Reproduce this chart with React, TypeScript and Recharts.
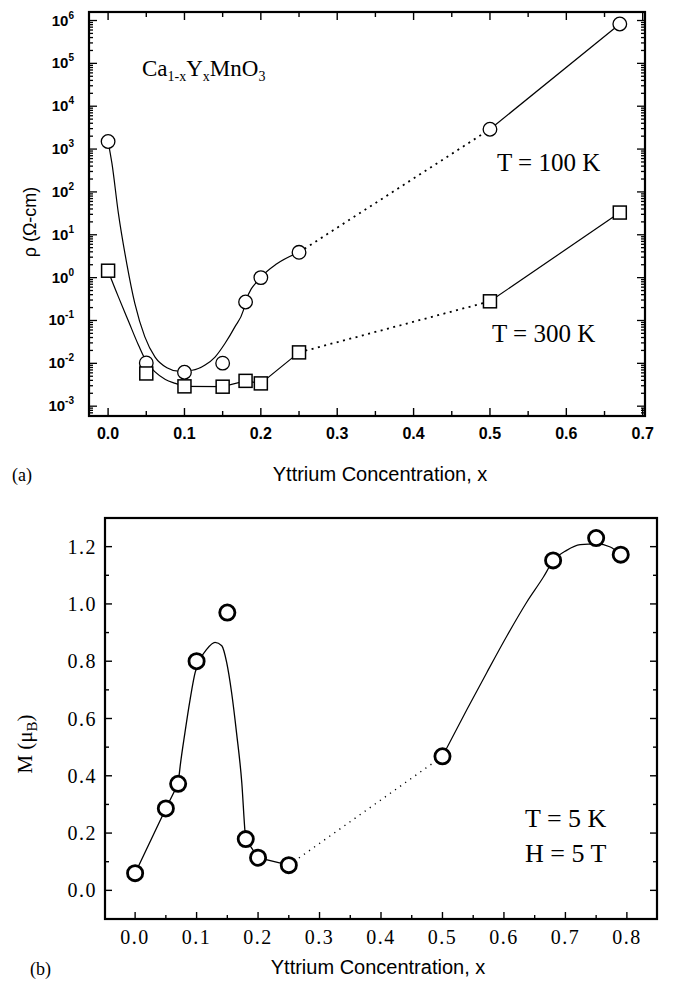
import React from 'react';
import { ComposedChart, Line, Scatter, XAxis, YAxis } from 'recharts';

// (a) resistivity of Ca1-xYxMnO3, measured points
const xRho = [0, 0.05, 0.1, 0.15, 0.18, 0.2, 0.25, 0.5, 0.67];
const rho100K = [1500, 0.0102, 0.0062, 0.0101, 0.27, 1.0, 3.9, 2900, 830000];
const rho300K = [1.45, 0.0058, 0.0029, 0.00285, 0.0039, 0.0034, 0.018, 0.28, 33];

// guide-to-the-eye curves
const fit100X = [0, 0.005, 0.0135, 0.0245, 0.035, 0.048, 0.0615, 0.077, 0.092, 0.11, 0.127, 0.14, 0.153, 0.166, 0.177, 0.18, 0.2, 0.221, 0.25];
const fit100Y = [1500, 468, 31.6, 2.1, 0.25, 0.042, 0.014, 0.0079, 0.0066, 0.0069, 0.0091, 0.014, 0.029, 0.071, 0.17, 0.27, 1.0, 2.1, 3.9];
const fit300X = [0, 0.003, 0.0135, 0.027, 0.04, 0.05, 0.0615, 0.075, 0.088, 0.1];
const fit300Y = [1.45, 1.05, 0.355, 0.093, 0.026, 0.011, 0.0063, 0.0042, 0.0034, 0.0029];

// (b) magnetization at 5 K, 5 T
const xM = [0, 0.05, 0.07, 0.1, 0.15, 0.18, 0.2, 0.25, 0.5, 0.68, 0.75, 0.79];
const mag = [0.06, 0.286, 0.372, 0.8, 0.97, 0.179, 0.114, 0.088, 0.468, 1.152, 1.23, 1.172];
const fitLowX = [0.07, 0.0732, 0.081, 0.0895, 0.0976, 0.106, 0.1166, 0.13, 0.141, 0.149, 0.157, 0.165, 0.1736, 0.179, 0.18];
const fitLowY = [0.372, 0.432, 0.55, 0.667, 0.76, 0.807, 0.842, 0.866, 0.854, 0.795, 0.69, 0.55, 0.374, 0.199, 0.179];
const fitHighX = [0.5, 0.54, 0.572, 0.605, 0.637, 0.664, 0.68, 0.702, 0.724, 0.751, 0.773, 0.79];
const fitHighY = [0.468, 0.632, 0.76, 0.889, 1.006, 1.093, 1.15, 1.187, 1.207, 1.21, 1.199, 1.172];

// ticks
const xTicksA = [0, 0.05, 0.1, 0.15, 0.2, 0.25, 0.3, 0.35, 0.4, 0.45, 0.5, 0.55, 0.6, 0.65, 0.7];
const decadesA = [-4, -3, -2, -1, 0, 1, 2, 3, 4, 5, 6];
const mantissas = [1, 2, 3, 4, 5, 6, 7, 8, 9];
const xTicksB = [0, 0.05, 0.1, 0.15, 0.2, 0.25, 0.3, 0.35, 0.4, 0.45, 0.5, 0.55, 0.6, 0.65, 0.7, 0.75, 0.8];
const yTicksB = [0, 0.1, 0.2, 0.3, 0.4, 0.5, 0.6, 0.7, 0.8, 0.9, 1.0, 1.1, 1.2];

const pts = (xs: number[], ys: number[]) => xs.map((x, i) => ({ x, y: ys[i] }));

// plot boxes (page pixels)
const A = { left: 89, top: 12, right: 645, bottom: 416 };
const B = { left: 105, top: 518, right: 657, bottom: 919 };
const A_H = 470;
const B_TOP = 470;
const B_H = 512;

const rhoDomain = [5.9e-4, 1.58e6];
const logTicks = decadesA
  .flatMap((d) => mantissas.map((m) => m * Math.pow(10, d)))
  .filter((v) => v > rhoDomain[0] && v < rhoDomain[1]);

const sans = '"Liberation Sans", Arial, sans-serif';
const serif = '"Liberation Serif", "Times New Roman", serif';

const XTickA = (p: any) => {
  const { x, y, payload } = p;
  const major = Math.round(payload.value * 100) % 10 === 0;
  const len = major ? 8 : 5;
  return (
    <g>
      <line x1={x} y1={y} x2={x} y2={y - len} stroke="#000" strokeWidth={1.4} />
      <line x1={x} y1={A.top} x2={x} y2={A.top + len} stroke="#000" strokeWidth={1.4} />
      {major && (
        <text x={x} y={y + 23} textAnchor="middle" fontFamily={sans} fontWeight="bold" fontSize={16} fill="#000">
          {payload.value.toFixed(1)}
        </text>
      )}
    </g>
  );
};

const YTickA = (p: any) => {
  const { x, y, payload } = p;
  const e = Math.log10(payload.value);
  const major = Math.abs(e - Math.round(e)) < 1e-6;
  const len = major ? 8 : 4;
  return (
    <g>
      <line x1={x} y1={y} x2={x + len} y2={y} stroke="#000" strokeWidth={1.3} />
      <line x1={A.right} y1={y} x2={A.right - len} y2={y} stroke="#000" strokeWidth={1.3} />
      {major && (
        <text x={x - 15} y={y + 5} textAnchor="end" fontFamily={sans} fontWeight="bold" fontSize={15} fill="#000">
          10
          <tspan dy={-7} fontSize={10}>
            {Math.round(e)}
          </tspan>
        </text>
      )}
    </g>
  );
};

const XTickB = (p: any) => {
  const { x, y, payload } = p;
  const major = Math.round(payload.value * 100) % 10 === 0;
  const len = major ? 7 : 4;
  return (
    <g>
      <line x1={x} y1={y} x2={x} y2={y - len} stroke="#000" strokeWidth={1.4} />
      <line x1={x} y1={B.top} x2={x} y2={B.top + len} stroke="#000" strokeWidth={1.4} />
      {major && (
        <text x={x} y={y + 25} textAnchor="middle" fontFamily={serif} fontSize={20} letterSpacing={1.5} fill="#000">
          {payload.value.toFixed(1)}
        </text>
      )}
    </g>
  );
};

const YTickB = (p: any) => {
  const { x, y, payload } = p;
  const major = Math.round(payload.value * 10) % 2 === 0;
  const len = major ? 7 : 4;
  return (
    <g>
      <line x1={x} y1={y} x2={x + len} y2={y} stroke="#000" strokeWidth={1.4} />
      <line x1={B.right} y1={y} x2={B.right - len} y2={y} stroke="#000" strokeWidth={1.4} />
      {major && (
        <text x={x - 8} y={y + 7} textAnchor="end" fontFamily={serif} fontSize={20} letterSpacing={1.5} fill="#000">
          {payload.value.toFixed(1)}
        </text>
      )}
    </g>
  );
};

const OpenCircle = (p: any) => <circle cx={p.cx} cy={p.cy} r={6.8} fill="#fff" stroke="#000" strokeWidth={1.3} />;
const OpenSquare = (p: any) => (
  <rect x={p.cx - 6.5} y={p.cy - 6.5} width={13} height={13} fill="#fff" stroke="#000" strokeWidth={1.5} />
);
const ThickCircle = (p: any) => <circle cx={p.cx} cy={p.cy} r={7.6} fill="#fff" stroke="#000" strokeWidth={2.8} />;

const lineProps = { dataKey: 'y', stroke: '#000', dot: false, activeDot: false, isAnimationActive: false } as const;

const App: React.FC = () => {
  const r100 = pts(xRho, rho100K);
  const r300 = pts(xRho, rho300K);
  const m = pts(xM, mag);

  return (
    <div style={{ position: 'absolute', left: 0, top: 0, width: 673, height: 982, background: '#fff' }}>
      <div style={{ position: 'absolute', left: 0, top: 0 }}>
        <ComposedChart
          width={673}
          height={A_H}
          margin={{ top: A.top, left: A.left - 1, right: 673 - A.right, bottom: A_H - A.bottom - 1 }}
        >
          <XAxis
            dataKey="x"
            type="number"
            domain={[-0.025, 0.703]}
            allowDataOverflow
            ticks={xTicksA}
            interval={0}
            height={1}
            tickSize={0}
            tickMargin={0}
            axisLine={false}
            tickLine={false}
            tick={XTickA}
          />
          <YAxis
            dataKey="y"
            type="number"
            scale="log"
            domain={rhoDomain}
            allowDataOverflow
            ticks={logTicks}
            interval={0}
            width={1}
            tickSize={0}
            tickMargin={0}
            axisLine={false}
            tickLine={false}
            tick={YTickA}
          />
          <Line {...lineProps} data={pts(fit100X, fit100Y)} type="monotone" strokeWidth={1.2} />
          <Line {...lineProps} data={r100.slice(6, 8)} type="linear" strokeWidth={1.8} strokeDasharray="2 4.5" />
          <Line {...lineProps} data={r100.slice(7, 9)} type="linear" strokeWidth={1.2} />
          <Line {...lineProps} data={pts(fit300X, fit300Y)} type="monotone" strokeWidth={1.2} />
          <Line {...lineProps} data={r300.slice(2, 7)} type="linear" strokeWidth={1.2} />
          <Line {...lineProps} data={r300.slice(6, 8)} type="linear" strokeWidth={1.8} strokeDasharray="2 4.5" />
          <Line {...lineProps} data={r300.slice(7, 9)} type="linear" strokeWidth={1.2} />
          <Scatter data={r100} shape={OpenCircle} isAnimationActive={false} />
          <Scatter data={r300} shape={OpenSquare} isAnimationActive={false} />
        </ComposedChart>
      </div>

      <div style={{ position: 'absolute', left: 0, top: B_TOP }}>
        <ComposedChart
          width={673}
          height={B_H}
          margin={{ top: B.top - B_TOP, left: B.left - 1, right: 673 - B.right, bottom: B_TOP + B_H - B.bottom - 1 }}
        >
          <XAxis
            dataKey="x"
            type="number"
            domain={[-0.049, 0.849]}
            allowDataOverflow
            ticks={xTicksB}
            interval={0}
            height={1}
            tickSize={0}
            tickMargin={0}
            axisLine={false}
            tickLine={false}
            tick={XTickB}
          />
          <YAxis
            dataKey="y"
            type="number"
            domain={[-0.1, 1.3]}
            allowDataOverflow
            ticks={yTicksB}
            interval={0}
            width={1}
            tickSize={0}
            tickMargin={0}
            axisLine={false}
            tickLine={false}
            tick={YTickB}
          />
          <Line {...lineProps} data={m.slice(0, 3)} type="linear" strokeWidth={1.3} />
          <Line {...lineProps} data={pts(fitLowX, fitLowY)} type="monotone" strokeWidth={1.3} />
          <Line {...lineProps} data={m.slice(5, 8)} type="linear" strokeWidth={1.3} />
          <Line {...lineProps} data={m.slice(7, 9)} type="linear" strokeWidth={1.4} strokeDasharray="1.2 5" />
          <Line {...lineProps} data={pts(fitHighX, fitHighY)} type="monotone" strokeWidth={1.2} />
          <Scatter data={m} shape={ThickCircle} isAnimationActive={false} />
        </ComposedChart>
      </div>

      <svg
        width={673}
        height={982}
        style={{ position: 'absolute', left: 0, top: 0, pointerEvents: 'none' }}
      >
        <rect x={A.left} y={A.top} width={A.right - A.left} height={A.bottom - A.top} fill="none" stroke="#000" strokeWidth={2.2} />
        <rect x={B.left} y={B.top} width={B.right - B.left} height={B.bottom - B.top} fill="none" stroke="#000" strokeWidth={2.2} />

        <text x={142} y={76} fontFamily={serif} fontSize={23} fill="#000">
          Ca
          <tspan fontSize={14} dy={5}>1-x</tspan>
          <tspan dy={-5}>Y</tspan>
          <tspan fontSize={14} dy={5}>x</tspan>
          <tspan dy={-5}>MnO</tspan>
          <tspan fontSize={14} dy={5}>3</tspan>
        </text>
        <text x={497} y={171} fontFamily={serif} fontSize={25} fill="#000">T = 100 K</text>
        <text x={492} y={342} fontFamily={serif} fontSize={25} fill="#000">T = 300 K</text>
        <text x={525} y={827} fontFamily={serif} fontSize={26} fill="#000">T = 5 K</text>
        <text x={525} y={862} fontFamily={serif} fontSize={26} fill="#000">H = 5 T</text>

        <text transform="translate(36,222) rotate(-90)" textAnchor="middle" fontFamily={sans} fontSize={18} fill="#000">
          ρ   (Ω-cm)
        </text>
        <text transform="translate(32,744) rotate(-90)" textAnchor="middle" fontFamily={serif} fontSize={21} fill="#000">
          M (μ
          <tspan fontSize={15} dy={5}>B</tspan>
          <tspan dy={-5}>)</tspan>
        </text>

        <text x={380} y={481} textAnchor="middle" fontFamily={sans} fontSize={20} fill="#000">Yttrium Concentration, x</text>
        <text x={378} y={974} textAnchor="middle" fontFamily={sans} fontSize={20} fill="#000">Yttrium Concentration, x</text>
        <text x={12} y={481} fontFamily={serif} fontSize={18} fill="#000">(a)</text>
        <text x={30} y={975} fontFamily={serif} fontSize={18} fill="#000">(b)</text>
      </svg>
    </div>
  );
};

export default App;
